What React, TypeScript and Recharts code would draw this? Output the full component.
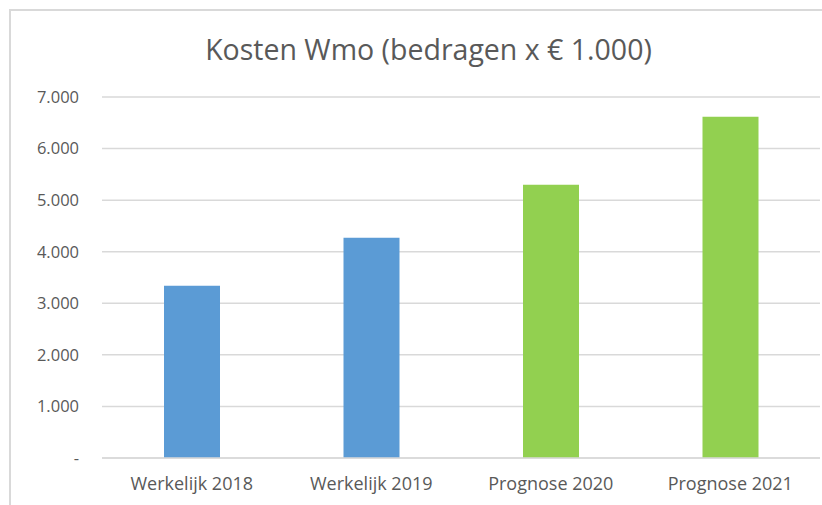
import React from "react";
import { BarChart, Bar, XAxis, YAxis, CartesianGrid, Cell } from "recharts";

const categories = ["Werkelijk 2018", "Werkelijk 2019", "Prognose 2020", "Prognose 2021"];
const values = [3340, 4270, 5300, 6615];
const yTicks = [0, 1000, 2000, 3000, 4000, 5000, 6000, 7000];
const title = "Kosten Wmo (bedragen x € 1.000)";

const BLUE = "#5B9BD5";
const GREEN = "#92D050";
const TEXT = "#595959";
const GRID = "#D9D9D9";
const FONT = "'Open Sans', 'Noto Sans', sans-serif";

const data = categories.map((c, i) => ({ name: c, value: values[i] }));

const fmt = (v: number) => {
  if (v === 0) return "-";
  const s = String(Math.round(v));
  return s.replace(/\B(?=(\d{3})+(?!\d))/g, ".");
};

export default function App() {
  return (
    <div style={{ position: "fixed", left: 0, top: 0, width: 822, height: 505, background: "#fff", overflow: "hidden" }}>
      <div
        style={{
          position: "absolute",
          left: 9,
          top: 9,
          width: 840,
          height: 520,
          borderTop: `2px solid ${GRID}`,
          borderLeft: `2px solid ${GRID}`,
          boxSizing: "border-box",
        }}
      />
      <div
        style={{
          position: "absolute",
          left: 0,
          width: 857,
          top: 30,
          textAlign: "center",
          fontFamily: FONT,
          fontSize: 28.5,
          fontWeight: 400,
          color: TEXT,
          lineHeight: "38px",
          whiteSpace: "nowrap",
        }}
      >
        {title}
      </div>
      <div style={{ position: "absolute", left: 0, top: 0 }}>
        <BarChart
          width={822}
          height={505}
          data={data}
          margin={{ top: 97, right: 2, bottom: 17, left: 12 }}
        >
          <CartesianGrid vertical={false} stroke={GRID} strokeWidth={1.5} />
          <XAxis
            dataKey="name"
            axisLine={{ stroke: GRID, strokeWidth: 1.5 }}
            tickLine={false}
            tickSize={0}
            tickMargin={19}
            height={30}
            interval={0}
            tick={{ fill: TEXT, fontSize: 18, fontFamily: FONT }}
          />
          <YAxis
            domain={[0, 7000]}
            ticks={yTicks}
            tickFormatter={fmt}
            axisLine={false}
            tickLine={false}
            tickSize={0}
            tickMargin={23}
            width={90}
            interval={0}
            tick={{ fill: TEXT, fontSize: 16.5, fontFamily: FONT }}
          />
          <Bar dataKey="value" barSize={56} isAnimationActive={false}>
            {data.map((d) => (
              <Cell key={d.name} fill={d.name.startsWith("Prognose") ? GREEN : BLUE} />
            ))}
          </Bar>
        </BarChart>
      </div>
    </div>
  );
}
